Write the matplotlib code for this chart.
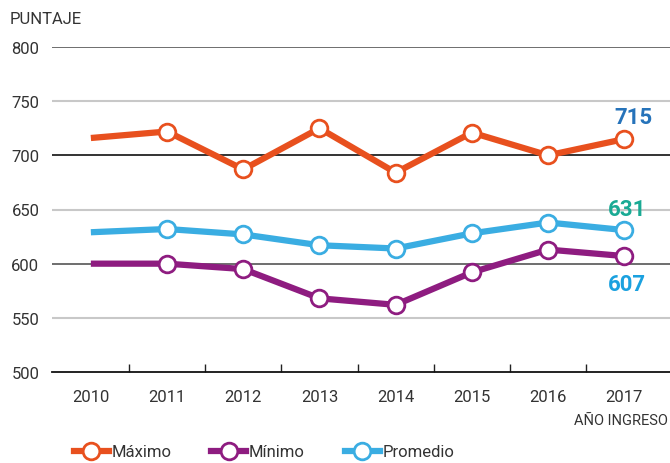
import numpy as np
import matplotlib.pyplot as plt

plt.rcParams['font.family'] = ['Roboto', 'DejaVu Sans']

# datos
anios = ['2010', '2011', '2012', '2013', '2014', '2015', '2016', '2017']
maximo = [716, 722, 687, 725, 684, 721, 700, 715]
minimo = [600, 600, 595, 568, 562, 592, 613, 607]
promedio = [629, 632, 627, 617, 614, 628, 638, 631]

c_max = '#E8501E'
c_min = '#8E1C80'
c_prom = '#3AADE2'

fig = plt.figure(figsize=(6.7, 4.64), dpi=100)
ax = fig.add_axes([52 / 670, 1 - 373 / 464, 618 / 670, 325 / 464])

x = np.arange(len(anios))

# lineas de referencia
grid_col = {550: '#c8c8c8', 600: '#555555', 650: '#c8c8c8', 700: '#111111',
            750: '#c8c8c8', 800: '#555555'}
for v, c in grid_col.items():
    ax.axhline(v, color=c, lw=1.2 if c != '#c8c8c8' else 1.5, zorder=1)

for serie, col in [(maximo, c_max), (minimo, c_min), (promedio, c_prom)]:
    ax.plot(x, serie, color=col, lw=4.5, solid_capstyle='butt', zorder=2)
    ax.plot(x[1:], serie[1:], ls='none', marker='o', ms=12, mfc='white',
            mec=col, mew=2, zorder=3)

ax.text(x[-1] + 0.12, maximo[-1] + 10, str(maximo[-1]), color='#2673BA',
        fontsize=16, fontweight='bold', ha='center', va='bottom')
ax.text(x[-1] + 0.04, promedio[-1] + 9, str(promedio[-1]), color='#1AAA94',
        fontsize=16, fontweight='bold', ha='center', va='bottom')
ax.text(x[-1] + 0.04, minimo[-1] - 16, str(minimo[-1]), color='#1BA1DF',
        fontsize=16, fontweight='bold', ha='center', va='top')

ax.set_xlim(-0.51, 7.6)
ax.set_ylim(500, 800)
ax.set_yticks(range(500, 801, 50))
ax.tick_params(axis='y', length=0, pad=9, labelsize=12, labelcolor='#333333')

ax.set_xticks(x)
ax.set_xticklabels(anios)
ax.tick_params(axis='x', length=0, pad=12, labelsize=12, labelcolor='#333333')
ax.set_xticks(x[:-1] + 0.5, minor=True)
ax.tick_params(axis='x', which='minor', length=6, direction='in',
               width=1, color='#222222')

for s in ['top', 'right', 'left']:
    ax.spines[s].set_visible(False)
ax.spines['bottom'].set_color('#111111')
ax.spines['bottom'].set_linewidth(1.3)

fig.text(10 / 670, 1 - 20 / 464, 'PUNTAJE', fontsize=12, color='#333333',
         va='center', ha='left')
fig.text(668 / 670, 1 - 421 / 464, 'AÑO INGRESO', fontsize=10.5,
         color='#333333', va='center', ha='right')

handles = []
for col, lab in [(c_max, 'Máximo'), (c_min, 'Mínimo'), (c_prom, 'Promedio')]:
    h, = ax.plot([], [], color=col, lw=4.5, marker='o', ms=12, mfc='white',
                 mec=col, mew=2, label=lab)
    handles.append(h)
fig.legend(handles=handles, loc='center', bbox_to_anchor=(264 / 670, 1 - 453 / 464),
           ncol=3, frameon=False, fontsize=12, handlelength=2.1,
           handletextpad=0.15, columnspacing=2.4, labelcolor='#333333')

fig.savefig('out.png', dpi=100)
